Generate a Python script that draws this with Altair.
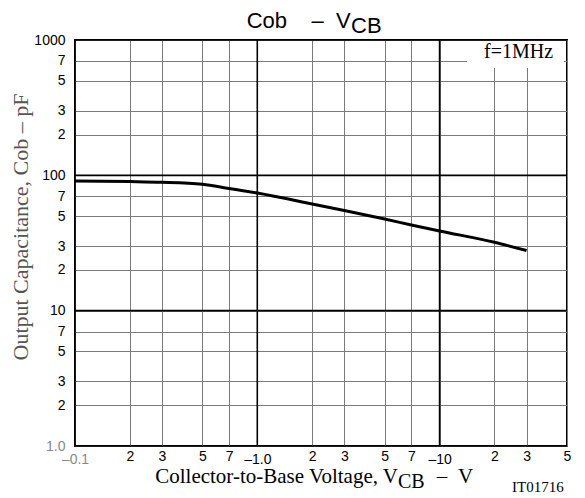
import altair as alt
import pandas as pd

# Curve data
vcb = [0.1, 0.2, 0.3, 0.5, 0.7, 1.0, 2, 3, 5, 7, 10, 20, 30]
cob = [91, 90, 89, 86, 80, 74, 61.5, 55, 47.5, 43, 38.8, 32, 27.8]

x_ticks = [0.1, 0.2, 0.3, 0.5, 0.7, 1, 2, 3, 5, 7, 10, 20, 30, 50]
x_labels = ["–0.1", "2", "3", "5", "7", "–1.0", "2", "3", "5", "7", "–10", "2", "3", "5"]
x_decades = [0.1, 1, 10]

y_ticks = [1, 2, 3, 5, 7, 10, 20, 30, 50, 70, 100, 200, 300, 500, 700, 1000]
y_labels = ["1.0", "2", "3", "5", "7", "10", "2", "3", "5", "7", "100", "2", "3", "5", "7", "1000"]
y_decades = [1, 10, 100, 1000]

df = pd.DataFrame({"vcb": vcb, "cob": cob})


def label_expr(ticks, labels):
    expr = "''"
    for t, l in reversed(list(zip(ticks, labels))):
        expr = f"datum.value == {t} ? '{l}' : ({expr})"
    return expr


def test_expr(vals):
    return " || ".join(f"datum.value == {v}" for v in vals)


xt = test_expr(x_decades)

xscale = alt.Scale(type="log", domain=[0.1, 50], nice=False)
yscale = alt.Scale(type="log", domain=[1, 1000], nice=False)

x_axis = alt.Axis(
    values=x_ticks,
    labelExpr=label_expr(x_ticks, x_labels),
    title=None,
    grid=True,
    gridColor="#7a7a7a",
    gridWidth=1,
    domain=False,
    ticks=False,
    labelFont="Liberation Sans",
    labelFontSize=14,
    labelColor={"condition": {"test": "datum.value == 0.1", "value": "#888888"}, "value": "#000000"},
    labelPadding={"condition": {"test": xt, "value": 6}, "value": 3},
    labelFlush=False,
    labelOverlap=False,
)

y_axis = alt.Axis(
    values=y_ticks,
    labelExpr=label_expr(y_ticks, y_labels),
    title=None,
    grid=True,
    gridColor="#7a7a7a",
    gridWidth=1,
    domain=False,
    ticks=False,
    labelFont="Liberation Sans",
    labelFontSize=14,
    labelColor={"condition": {"test": "datum.value == 1", "value": "#888888"}, "value": "#000000"},
    labelPadding=10,
    labelFlush=False,
    labelOverlap=False,
    labelBaseline="middle",
)

line = alt.Chart(df).mark_line(color="black", strokeWidth=3, interpolate="monotone").encode(
    x=alt.X("vcb:Q", scale=xscale, axis=x_axis),
    y=alt.Y("cob:Q", scale=yscale, axis=y_axis),
)

xdec = alt.Chart(pd.DataFrame({"v": x_decades})).mark_rule(color="black", strokeWidth=1.6).encode(
    x=alt.X("v:Q", scale=xscale)
)
ydec = alt.Chart(pd.DataFrame({"v": y_decades})).mark_rule(color="black", strokeWidth=1.6).encode(
    y=alt.Y("v:Q", scale=yscale)
)


def txt(s, x, y, size, font="Liberation Sans", align="left", baseline="alphabetic", angle=0, color="black"):
    kw = dict(align=align, baseline=baseline, font=font, fontSize=size, color=color)
    if angle:
        kw["angle"] = angle
    return alt.Chart(pd.DataFrame({"t": [s]})).mark_text(**kw).encode(
        text="t:N", x=alt.value(x), y=alt.value(y)
    )


box = alt.Chart(pd.DataFrame({"a": [0]})).mark_rect(fill="white").encode(
    x=alt.value(392), x2=alt.value(489), y=alt.value(1), y2=alt.value(28)
)

layers = [
    xdec,
    ydec,
    line,
    box,
    txt("f=1MHz", 409, 18, 20, font="Liberation Serif"),
    # title
    txt("Cob", 171.7, -12.5, 22),
    txt("–", 242.5, -12.5, 22, align="center"),
    txt("V", 261, -12.5, 22),
    txt("CB", 276, -7, 22),
    # x title
    txt("Collector-to-Base Voltage,  V", 323, 443, 21, font="Liberation Serif", align="right"),
    txt("CB", 323, 448, 20, font="Liberation Serif"),
    txt("–", 367, 443, 21, font="Liberation Serif", align="center"),
    txt("V", 383, 443, 21, font="Liberation Serif"),
    txt("IT01716", 437, 452, 15, font="Liberation Serif"),
    # y title
    txt("Output Capacitance,  Cob  –  pF", -47, 187, 22, font="Liberation Serif",
        align="center", angle=270, color="#555555"),
]

chart = alt.layer(*layers).properties(
    width=492,
    height=406,
    autosize=alt.AutoSizeParams(type="none"),
    padding={"left": 67, "top": 32, "right": 10, "bottom": 50},
).configure_view(stroke="black", strokeWidth=2)

chart.save("out.html", embed_options={"renderer": "svg", "actions": False})
